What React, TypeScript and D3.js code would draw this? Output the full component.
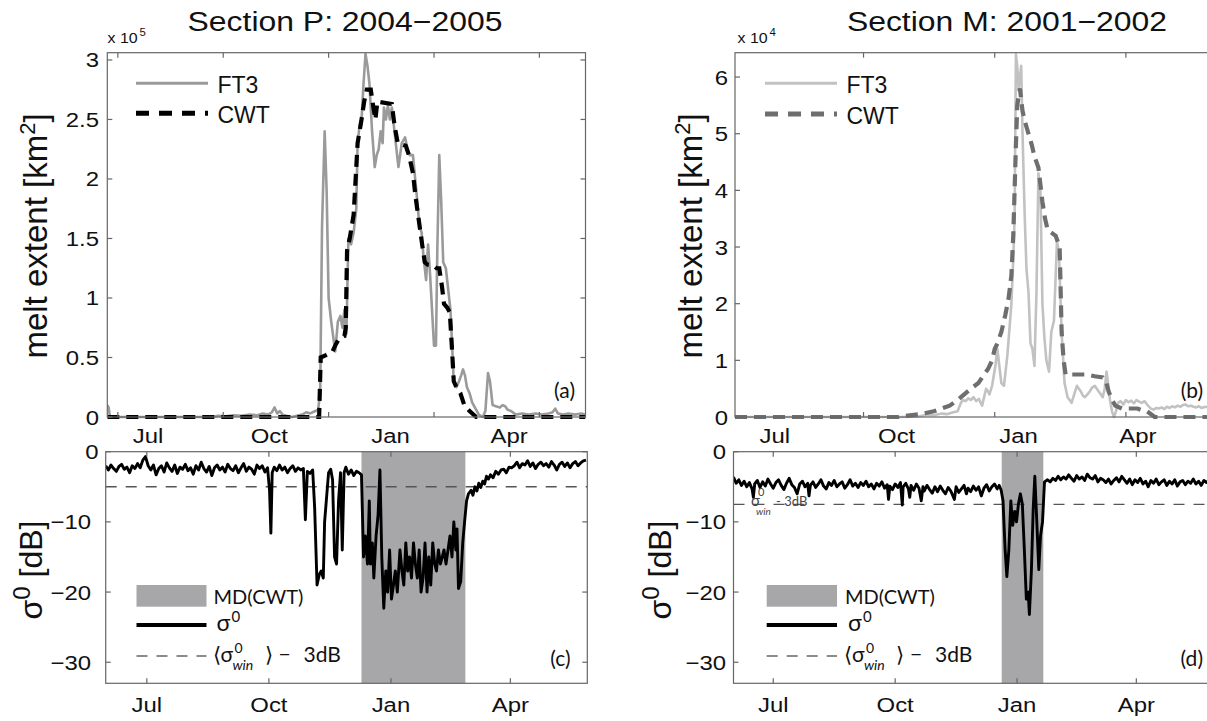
import React from 'react';
import * as d3 from 'd3';

// ---------- data ----------
const monthLabels = ['Jul', 'Oct', 'Jan', 'Apr'];
const monthDaysP = [31, 123, 215, 305]; // days since 31 May 2004
const monthDaysM = [30, 122, 214, 304]; // days since 1 Jun 2001
const topTicksP = [8, 88, 168, 248, 328];
const topTicksM = [97, 196, 295, 394];
const meltTicksP = [0, 0.5, 1, 1.5, 2, 2.5, 3];
const meltTicksM = [0, 1, 2, 3, 4, 5, 6];
const sigmaTicks = [0, -10, -20, -30];

// melt extent, Section P (x 1e5 km2)
const ft3P = [
  [0, 0.1], [1, 0.08], [2, 0], [30, 0], [60, 0], [80, 0], [84, 0.01], [90, 0.005], [96, 0.015], [102, 0.01],
  [108, 0.02], [114, 0.015], [118, 0.03], [122, 0.02], [125, 0.04], [127, 0.08], [129, 0.03], [131, 0.05],
  [133, 0.02], [136, 0.01], [140, 0], [144, 0.01], [148, 0.02], [151, 0.04], [154, 0.03], [158, 0.05],
  [160, 0.06], [161.6, 0.2], [163, 1.6], [165, 2.4], [166.5, 1.9], [168, 1.0], [170, 0.8], [173, 0.55],
  [175, 0.8], [177, 0.85], [178.5, 0.75], [180, 0.9], [181.5, 0.7], [183, 1.5], [185, 1.45], [187, 1.55],
  [189, 1.75], [190, 2.3], [191.5, 2.45], [193, 2.5], [194.5, 2.8], [196, 3.05], [197.5, 2.95], [199, 2.8],
  [201, 2.4], [203, 2.1], [204.5, 2.2], [206, 2.25], [207.5, 2.4], [209, 2.3], [210, 2.6], [211.5, 2.5],
  [213, 2.62], [214.5, 2.5], [216, 2.6], [217.5, 2.45], [219, 2.3], [221, 2.1], [223.5, 2.3], [226, 2.35],
  [228, 2.25], [229.5, 2.2], [232, 2.2], [235, 1.85], [237, 1.6], [238.6, 1.55], [240, 1.35], [242, 1.15],
  [243.5, 1.45], [245, 1.2], [246.5, 0.9], [248, 0.6], [249.5, 0.6], [250.5, 1.4], [252, 2.2], [253.5, 1.8],
  [255, 1.3], [257, 1.25], [258.5, 1.1], [260.5, 0.9], [263, 0.3], [265, 0.25], [267, 0.3], [268.6, 0.35],
  [270, 0.4], [271.5, 0.35], [273, 0.25], [275, 0.2], [277, 0.12], [279, 0.08], [282, 0.02], [285, 0],
  [287, 0.05], [289, 0.37], [290.5, 0.3], [292.5, 0.1], [295, 0.09], [298, 0.08], [300, 0.1], [302, 0.09],
  [304, 0.06], [306.5, 0.05], [310, 0.02], [315, 0.03], [320, 0.02], [325, 0.03], [330, 0.02], [335, 0.03],
  [338, 0.04], [340, 0.07], [342, 0.03], [346, 0.02], [350, 0.03], [355, 0.02], [360, 0.03], [363, 0.02],
];
const cwtP = [
  [0, 0], [160.8, 0], [162, 0.5], [166, 0.52], [171, 0.55], [173, 0.6], [175.4, 0.65], [180, 0.68],
  [181, 0.75], [182, 1.4], [184, 1.5], [187, 1.7], [190, 2.3], [193, 2.5], [195, 2.65], [197, 2.75],
  [200, 2.75], [202, 2.6], [203.5, 2.5], [205, 2.65], [216, 2.63], [218, 2.45], [220.5, 2.3], [226.5, 2.28],
  [229, 2.2], [232, 2.05], [234, 1.85], [236.5, 1.65], [239, 1.45], [241, 1.3], [243, 1.28], [248, 1.27],
  [250, 1.25], [252, 1.25], [254, 1.1], [255.6, 0.95], [258, 0.92], [260, 0.88], [261.5, 0.6], [263, 0.3],
  [265, 0.25], [268, 0.2], [271, 0.1], [275, 0.05], [280, 0], [363, 0],
];

// melt extent, Section M (x 1e4 km2)
const ft3M = [
  [0, 0], [100, 0], [125, 0], [138, 0.01], [145, 0.04], [150, 0.03], [156, 0.06], [160, 0.05], [164, 0.08],
  [168, 0.1], [170.5, 0.25], [172, 0.3], [174, 0.28], [176, 0.33], [178, 0.3], [180, 0.35], [182, 0.28],
  [184, 0.32], [186.5, 0.2], [188, 0.35], [189.5, 0.5], [191, 0.45], [192, 0.4], [194, 0.55], [196.5, 0.9],
  [198, 1.2], [199.5, 0.9], [201, 0.6], [203, 0.55], [205.6, 1.1], [208.6, 2.0], [210, 2.8], [211, 3.5],
  [212, 6.4], [213, 6.2], [214, 5.8], [215, 6.0], [216, 6.2], [217, 5.0], [218.7, 3.5], [220, 2.6],
  [221.5, 2.2], [223, 1.3], [224.5, 1.2], [226, 0.9], [227.5, 2.2], [229, 4.3], [230.5, 4.0], [232, 2.0],
  [233.5, 1.4], [235, 1.0], [237, 0.8], [238.7, 1.5], [240.7, 1.7], [243, 3.1], [244.5, 2.9], [246.5, 1.5],
  [248.7, 0.6], [251, 0.35], [254, 0.25], [256, 0.4], [258, 0.55], [259.5, 0.5], [261, 0.45], [262.5, 0.38],
  [264, 0.35], [266, 0.4], [267.7, 0.45], [269.5, 0.52], [271.5, 0.55], [273, 0.5], [274.5, 0.45],
  [276, 0.4], [277.5, 0.35], [279, 0.5], [280.4, 0.8], [281.5, 0.6], [283, 0.3], [284.5, 0.1], [286, 0],
  [287.5, 0.1], [289, 0.25], [291, 0.28], [293, 0.22], [295, 0.3], [297, 0.26], [299, 0.29], [301, 0.24],
  [303, 0.3], [305, 0.27], [307, 0.25], [309, 0.28], [311, 0.22], [313.7, 0.15], [316, 0.13], [318, 0.16],
  [320, 0.15], [322, 0.17], [324, 0.14], [326, 0.18], [328, 0.16], [330, 0.19], [332, 0.17], [334, 0.2],
  [336, 0.18], [338, 0.21], [340, 0.22], [342, 0.19], [344, 0.2], [346, 0.18], [348, 0.17], [350, 0.19],
  [352, 0.16], [355, 0.18], [358, 0.17], [363, 0.16],
];
const cwtM = [
  [0, 0], [123, 0], [132, 0.03], [140, 0.05], [150, 0.1], [156, 0.15], [162, 0.2], [168, 0.3], [173, 0.4],
  [178, 0.5], [183.7, 0.6], [188, 0.75], [191, 0.85], [194, 1.0], [196, 1.2], [198, 1.3], [201, 1.5],
  [204, 1.8], [206.5, 2.1], [208.6, 2.5], [210, 3.2], [211, 4.0], [212, 4.8], [213, 5.5], [215, 5.8],
  [217, 5.4], [219, 5.2], [221.5, 5.0], [224, 4.8], [226, 4.6], [229, 4.4], [230.5, 4.1], [232, 3.8],
  [234, 3.5], [236, 3.3], [239, 3.25], [242, 3.2], [245, 3.0], [246.5, 1.5], [248, 1.0], [249.5, 0.75],
  [255, 0.75], [260, 0.75], [265.6, 0.75], [271.5, 0.72], [277.5, 0.7], [280.3, 0.6], [282, 0.45],
  [284.6, 0.3], [287, 0.2], [292, 0.15], [298, 0.15], [303.7, 0.15], [307, 0.12], [311, 0.1], [314, 0.05],
  [316.7, 0], [363, 0],
];

// backscatter sigma0 [dB], Section P
const sigmaP = [
  [0, -2.0], [2, -2.6], [4, -1.9], [6, -2.4], [8, -2.8], [10, -2.1], [12, -1.8], [14, -2.5], [16, -2.2],
  [18, -3.0], [20, -2.0], [22, -2.4], [24, -1.7], [26, -2.3], [28, -1.2], [30, -0.7], [32, -2.0], [34, -2.6],
  [36, -1.9], [38, -3.3], [40, -2.4], [42, -2.0], [44, -2.9], [46, -1.6], [48, -2.3], [50, -2.8], [52, -1.9],
  [54, -3.1], [56, -2.2], [58, -2.5], [60, -1.8], [62, -2.7], [64, -2.3], [66, -3.2], [68, -2.0], [70, -2.6],
  [72, -1.5], [74, -2.4], [76, -2.9], [78, -2.1], [80, -3.4], [82, -2.3], [84, -1.9], [86, -2.6], [88, -2.2],
  [90, -2.9], [92, -1.8], [94, -2.4], [96, -2.7], [98, -2.0], [100, -3.0], [102, -2.3], [104, -1.7],
  [106, -2.8], [108, -2.2], [110, -2.5], [112, -3.2], [114, -1.9], [116, -2.4], [118, -2.0], [120, -2.9],
  [122, -2.3], [123.5, -5.5], [124.5, -11.6], [125.5, -3.0], [127, -2.2], [129, -2.7], [131, -1.9],
  [133, -2.6], [135, -2.2], [137, -3.0], [139, -2.4], [141, -2.0], [143, -2.8], [145, -2.3], [147, -2.6],
  [149, -2.4], [150.5, -9.7], [152, -2.8], [154, -3.1], [156, -2.6], [157.5, -8], [159.3, -19], [161, -17.5],
  [162.4, -17], [164, -18], [165, -10], [166.7, -6], [168, -3], [169.6, -2.5], [171, -4], [172.5, -15],
  [174, -16], [175.5, -7], [177, -3], [178.3, -14], [179.7, -3], [181, -2.2], [183, -3.2], [185, -2.6],
  [187, -3.4], [189, -2.8], [191, -3.0], [192.8, -3.3], [194.3, -15], [195.7, -12], [197.3, -16], [198.7, -7],
  [199.5, -16], [201, -13], [202.1, -18], [203.8, -12], [205.3, -9], [206.7, -2.6], [208.1, -15],
  [209.6, -22.3], [211.1, -17], [212.5, -20], [214, -14], [215.4, -21], [216.9, -19], [218.3, -17],
  [219.8, -20], [221.8, -14], [223.3, -17], [224.7, -19], [226.2, -13], [227.6, -17], [229, -15],
  [230.5, -18], [232, -13], [233.4, -16], [234.9, -18], [236.3, -14], [237.7, -20], [239.2, -18],
  [240.7, -13], [242.2, -20], [243.5, -15], [245, -19], [246.5, -13], [248, -16], [249.3, -17], [250.8, -14],
  [252.3, -16], [253.7, -15], [255, -14], [256.5, -16], [258, -14], [259.5, -12], [261, -15], [262.4, -10],
  [263.9, -14], [264.8, -11], [265.9, -19.5], [267.6, -18.5], [269.1, -13], [270.5, -10], [272, -7],
  [273.4, -6], [275.4, -5.5], [276.8, -6.2], [278.3, -5.0], [279.8, -5.6], [281.2, -4.5], [282.7, -5.1],
  [284.2, -4.2], [285.6, -4.6], [287, -3.5], [288.5, -3.9], [290, -3.3], [292, -3.7], [294, -2.8],
  [296, -3.2], [298, -2.6], [300, -2.5], [302, -3.0], [304, -2.2], [305.9, -2.3], [308, -2.0], [310, -1.5],
  [312, -2.3], [314, -1.7], [316, -1.9], [318, -1.3], [320, -2.1], [322, -1.6], [324, -2.4], [326, -1.8],
  [328, -1.5], [330, -2.0], [332, -1.7], [334, -2.2], [336, -1.4], [338, -1.9], [340, -2.6], [342, -1.8],
  [344, -1.5], [346, -2.1], [348, -1.6], [350, -2.3], [352, -1.7], [354, -1.4], [356, -2.0], [358, -1.6],
  [360, -1.3], [362, -1.2],
];

// backscatter sigma0 [dB], Section M
const sigmaM = [
  [0, -3.6], [2, -4.5], [4, -4.0], [6, -4.8], [8, -4.2], [10, -5.0], [12, -4.4], [14, -5.3], [15, -6.5],
  [16, -4.6], [18, -4.1], [20, -5.1], [22, -4.3], [24, -4.9], [26, -3.9], [28, -4.6], [30, -5.2], [32, -4.4],
  [34, -4.0], [36, -4.8], [38, -5.4], [40, -4.5], [42, -3.8], [44, -4.7], [46, -5.1], [48, -6.0], [50, -4.6],
  [52, -4.2], [54, -5.0], [56, -4.5], [57, -6.3], [58, -4.8], [60, -4.3], [62, -5.1], [64, -4.6], [66, -4.0],
  [68, -4.9], [70, -5.3], [72, -4.4], [74, -4.8], [76, -4.1], [78, -5.0], [80, -4.6], [82, -4.3], [84, -5.2],
  [86, -4.7], [88, -4.0], [90, -4.9], [92, -4.5], [94, -5.1], [96, -4.4], [98, -4.8], [100, -4.2],
  [102, -5.0], [104, -4.6], [106, -5.3], [108, -4.5], [110, -4.9], [112, -4.3], [114, -5.2], [116, -4.7],
  [117, -6.8], [118, -4.9], [120, -5.4], [122, -4.6], [124, -5.1], [126, -4.4], [127.4, -7.6], [128, -5.0],
  [130, -4.5], [132, -5.3], [133, -6.5], [134, -4.8], [136, -5.5], [138, -4.6], [140, -5.2], [141.7, -7.0],
  [143, -5.0], [144, -5.6], [146, -4.8], [148, -5.4], [150, -5.9], [152, -5.0], [154, -5.7], [156, -4.9],
  [158, -5.5], [160, -6.0], [162, -5.1], [164, -5.6], [166.7, -6.8], [168, -5.0], [170, -5.8], [172, -5.3],
  [174, -4.8], [175.8, -6.0], [177, -5.2], [179, -5.7], [181, -4.9], [183, -5.5], [185, -5.0], [187, -6.3],
  [189, -5.2], [191, -4.7], [193, -5.6], [195, -5.0], [197, -4.6], [199, -5.3], [200.5, -4.8], [202, -5.5],
  [203.4, -7], [205, -14], [206.3, -17.8], [207.8, -14], [209.3, -7], [210.7, -10.5], [212.2, -8.5],
  [213.6, -10], [215, -7.5], [216.5, -6], [218, -7.5], [219.5, -14], [221, -21], [222.4, -20],
  [223.3, -23.2], [224.8, -17], [226.2, -8], [227.4, -3.5], [228.9, -10], [230.4, -16.8], [231.7, -12],
  [233.2, -10], [234.7, -4.3], [237, -4.0], [239, -4.3], [241, -3.8], [243, -4.1], [245, -3.5], [247, -4.0],
  [249, -3.6], [251, -3.9], [253, -3.3], [255, -3.8], [257, -4.2], [259, -3.4], [261, -3.9], [263, -3.6],
  [265, -4.1], [267, -3.2], [269, -3.7], [271, -3.9], [273, -3.4], [275, -4.3], [277, -3.8], [279, -4.0],
  [281, -4.4], [283, -3.9], [285, -4.6], [287, -4.1], [289, -3.7], [291, -4.3], [293, -3.5], [295, -4.0],
  [297, -4.5], [299, -3.9], [301, -4.7], [303, -4.0], [305, -4.4], [307, -3.8], [309, -4.6], [311, -4.2],
  [313, -5.0], [315, -4.1], [317, -4.5], [319, -3.9], [321, -4.7], [323, -4.3], [325, -4.0], [327, -4.8],
  [329, -4.2], [331, -4.6], [333, -4.0], [335, -4.9], [337, -4.3], [339, -4.1], [341, -4.7], [343, -4.2],
  [345, -4.5], [347, -3.9], [349, -4.6], [351, -4.2], [353, -4.8], [355, -4.1], [357, -4.4], [359, -4.0],
  [361, -4.5], [363, -4.2],
];

const mdP = [192.8, 271.1]; // melt duration (CWT) shading, days
const mdM = [202.4, 233.8];
const thresholdP = -5;
const thresholdM = -7.5;

// ---------- drawing ----------
const SANS = '"Liberation Sans", Arial, Helvetica, sans-serif';
const MYR = 'Lato, "Open Sans", sans-serif';
const AX = '#666';
const SX = 1.14; // horizontal stretch of the reference's Helvetica text

function ST({ x, y, size, anchor = 'start', sx = SX, children }) {
  return (
    <text transform={`translate(${x},${y}) scale(${sx},1)`} textAnchor={anchor} fontFamily={SANS} fontSize={size} fill="#111">
      {children}
    </text>
  );
}

function Frame({ xs, ys, xTicks, yTicks, tl = 5 }) {
  const [a, b] = xs.range();
  const [c, d] = ys.range();
  return (
    <g stroke={AX} strokeWidth={1.2} fill="none">
      <rect x={a} y={d} width={b - a} height={c - d} />
      {xTicks.map((t) => (
        <g key={'x' + t}>
          <line x1={xs(t)} x2={xs(t)} y1={c} y2={c - tl} />
          <line x1={xs(t)} x2={xs(t)} y1={d} y2={d + tl} />
        </g>
      ))}
      {yTicks.map((t) => (
        <g key={'y' + t}>
          <line x1={a} x2={a + tl} y1={ys(t)} y2={ys(t)} />
          <line x1={b} x2={b - tl} y1={ys(t)} y2={ys(t)} />
        </g>
      ))}
    </g>
  );
}

function Clip({ id, xs, ys }) {
  const [a, b] = xs.range();
  const [c, d] = ys.range();
  return (
    <clipPath id={id}>
      <rect x={a} y={d - 2} width={b - a} height={c - d + 4} />
    </clipPath>
  );
}

function SigmaLegend({ lx0, lx1, tx }) {
  return (
    <g>
      <rect x={lx0} y={585} width={lx1 - lx0} height={21.7} fill="#a7a7aa" />
      <text x={tx} y={604} fontFamily={MYR} fontSize={20} fill="#111">MD(CWT)</text>
      <line x1={lx0} x2={lx1} y1={625} y2={625} stroke="#000" strokeWidth={4} />
      <text x={tx + 3} y={631} fontFamily={MYR} fontSize={23} fill="#111">σ</text>
      <text x={tx + 18} y={622} fontFamily={MYR} fontSize={15} fill="#111">0</text>
      <line x1={lx0} x2={lx1} y1={656} y2={656} stroke="#666" strokeWidth={1.5} strokeDasharray="11 9" />
      <text x={tx - 1} y={662} fontFamily={MYR} fontSize={21} fill="#111">⟨σ</text>
      <text x={tx + 21} y={653} fontFamily={MYR} fontSize={14} fill="#111">0</text>
      <text x={tx + 19} y={670} fontFamily={MYR} fontSize={14} fontStyle="italic" fill="#111">win</text>
      <text x={tx + 51} y={662} fontFamily={MYR} fontSize={21} fill="#111">⟩</text>
      <text x={tx + 65} y={662} fontFamily={MYR} fontSize={21} fill="#111">−</text>
      <text x={tx + 90} y={662} fontFamily={MYR} fontSize={21} fill="#111">3dB</text>
    </g>
  );
}

export default function App() {
  const xTL = d3.scaleLinear().domain([0, 363]).range([107.3, 585.5]);
  const yTL = d3.scaleLinear().domain([0, 3.061]).range([417, 52.7]);
  const xTR = d3.scaleLinear().domain([0, 363]).range([735, 1216]);
  const yTR = d3.scaleLinear().domain([0, 6.43]).range([417, 52.7]);
  const xBL = d3.scaleLinear().domain([0, 363]).range([105.7, 587.3]);
  const xBR = d3.scaleLinear().domain([0, 363]).range([733.5, 1214.5]);
  const yB = d3.scaleLinear().domain([-33, 0]).range([683.3, 451.7]);

  const mk = (xs, ys) => d3.line().x((d) => xs(d[0])).y((d) => ys(d[1]));
  const lTL = mk(xTL, yTL);
  const lTR = mk(xTR, yTR);
  const lBL = mk(xBL, yB);
  const lBR = mk(xBR, yB);

  const fmt = (v) => (v < 0 ? '−' + Math.abs(v) : String(v));

  return (
    <svg width={1207} height={721} style={{ position: 'fixed', left: 0, top: 0, background: '#fff' }}>
      <rect width={1207} height={721} fill="#fff" />
      <defs>
        <Clip id="cTL" xs={xTL} ys={yTL} />
        <Clip id="cTR" xs={xTR} ys={yTR} />
        <Clip id="cBL" xs={xBL} ys={yB} />
        <Clip id="cBR" xs={xBR} ys={yB} />
      </defs>

      {/* titles */}
      <ST x={345} y={31} size={28} anchor="middle">Section P: 2004−2005</ST>
      <ST x={1007} y={31} size={28} anchor="middle">Section M: 2001−2002</ST>

      {/* ===== panel (a) ===== */}
      <g clipPath="url(#cTL)" fill="none">
        <path d={lTL(ft3P)} stroke="#9a9a9a" strokeWidth={2.6} strokeLinejoin="round" />
        <path d={lTL(cwtP)} stroke="#000" strokeWidth={4.2} strokeDasharray="12 7" />
      </g>
      <Frame xs={xTL} ys={yTL} xTicks={topTicksP} yTicks={meltTicksP} />
      {meltTicksP.map((t) => (
        <ST key={t} x={99} y={yTL(t) + 7.5} size={21} anchor="end">{t}</ST>
      ))}
      {monthLabels.map((m, i) => (
        <ST key={m} x={xTL(monthDaysP[i])} y={443} size={21} anchor="middle">{m}</ST>
      ))}
      <ST x={107.5} y={43} size={14}>x 10</ST>
      <ST x={139.5} y={36} size={10}>5</ST>
      <text transform="translate(47,236) rotate(-90)" textAnchor="middle" fontFamily={SANS} fontSize={33} fill="#111">
        melt extent [km<tspan dy={-12} fontSize={22}>2</tspan><tspan dy={12}>]</tspan>
      </text>
      <line x1={136} x2={208} y1={83.3} y2={83.3} stroke="#9a9a9a" strokeWidth={3} />
      <text x={217.5} y={93.3} fontFamily={SANS} fontSize={23} fill="#111">FT3</text>
      <line x1={136} x2={208} y1={113.3} y2={113.3} stroke="#000" strokeWidth={5} strokeDasharray="13 10" />
      <text x={217.5} y={123.3} fontFamily={SANS} fontSize={23} fill="#111">CWT</text>
      <text x={575} y={398} textAnchor="end" fontFamily={MYR} fontSize={21} fill="#111">(a)</text>

      {/* ===== panel (b) ===== */}
      <g clipPath="url(#cTR)" fill="none">
        <path d={lTR(ft3M)} stroke="#c2c2c2" strokeWidth={2.6} strokeLinejoin="round" />
        <path d={lTR(cwtM)} stroke="#6e6e6e" strokeWidth={4.2} strokeDasharray="12 7" />
      </g>
      <Frame xs={xTR} ys={yTR} xTicks={topTicksM} yTicks={meltTicksM} />
      {meltTicksM.map((t) => (
        <ST key={t} x={728} y={yTR(t) + 7.5} size={21} anchor="end">{t}</ST>
      ))}
      {monthLabels.map((m, i) => (
        <ST key={m} x={xTR(monthDaysM[i])} y={443} size={21} anchor="middle">{m}</ST>
      ))}
      <ST x={737.5} y={43} size={14}>x 10</ST>
      <ST x={769.5} y={36} size={10}>4</ST>
      <text transform="translate(702,236) rotate(-90)" textAnchor="middle" fontFamily={SANS} fontSize={33} fill="#111">
        melt extent [km<tspan dy={-12} fontSize={22}>2</tspan><tspan dy={12}>]</tspan>
      </text>
      <line x1={765} x2={837} y1={83.3} y2={83.3} stroke="#c2c2c2" strokeWidth={3} />
      <text x={846.5} y={93.3} fontFamily={SANS} fontSize={23} fill="#111">FT3</text>
      <line x1={765} x2={837} y1={114} y2={114} stroke="#6e6e6e" strokeWidth={5} strokeDasharray="13 10" />
      <text x={846.5} y={123.5} fontFamily={SANS} fontSize={23} fill="#111">CWT</text>
      <text x={1203} y={398} textAnchor="end" fontFamily={MYR} fontSize={21} fill="#111">(b)</text>

      {/* ===== panel (c) ===== */}
      <g clipPath="url(#cBL)">
        <rect x={xBL(mdP[0])} y={yB(0)} width={xBL(mdP[1]) - xBL(mdP[0])} height={yB(-33) - yB(0)} fill="#a7a7aa" />
        <line x1={xBL(0)} x2={xBL(363)} y1={yB(thresholdP)} y2={yB(thresholdP)} stroke="#555" strokeWidth={1.4} strokeDasharray="11 9" />
        <path d={lBL(sigmaP)} fill="none" stroke="#000" strokeWidth={2.9} strokeLinejoin="round" />
      </g>
      <Frame xs={xBL} ys={yB} xTicks={monthDaysP} yTicks={sigmaTicks} />
      {sigmaTicks.map((t) => (
        <ST key={t} x={t === 0 ? 98.5 : 91} y={yB(t) + 7.5} size={21} anchor="end">{fmt(t)}</ST>
      ))}
      {monthLabels.map((m, i) => (
        <ST key={m} x={xBL(monthDaysP[i])} y={712} size={21} anchor="middle">{m}</ST>
      ))}
      <text transform="translate(42,570) rotate(-90)" textAnchor="middle" fontFamily={SANS} fontSize={32} fill="#111">
        σ<tspan dy={-12} fontSize={24}>0</tspan><tspan dy={12}> [dB]</tspan>
      </text>
      <SigmaLegend lx0={136.5} lx1={206.5} tx={213.5} />
      <text x={570.5} y={666} textAnchor="end" fontFamily={MYR} fontSize={21} fill="#111">(c)</text>

      {/* ===== panel (d) ===== */}
      <g clipPath="url(#cBR)">
        <rect x={xBR(mdM[0])} y={yB(0)} width={xBR(mdM[1]) - xBR(mdM[0])} height={yB(-33) - yB(0)} fill="#a7a7aa" />
        <line x1={xBR(0)} x2={xBR(363)} y1={yB(thresholdM)} y2={yB(thresholdM)} stroke="#555" strokeWidth={1.4} strokeDasharray="11 9" />
        <path d={lBR(sigmaM)} fill="none" stroke="#000" strokeWidth={2.9} strokeLinejoin="round" />
      </g>
      <Frame xs={xBR} ys={yB} xTicks={monthDaysM} yTicks={sigmaTicks} />
      {sigmaTicks.map((t) => (
        <ST key={t} x={726} y={yB(t) + 7.5} size={21} anchor="end">{fmt(t)}</ST>
      ))}
      {monthLabels.map((m, i) => (
        <ST key={m} x={xBR(monthDaysM[i])} y={712} size={21} anchor="middle">{m}</ST>
      ))}
      <text transform="translate(671,570) rotate(-90)" textAnchor="middle" fontFamily={SANS} fontSize={32} fill="#111">
        σ<tspan dy={-12} fontSize={24}>0</tspan><tspan dy={12}> [dB]</tspan>
      </text>
      <g fill="#444" fontFamily={MYR}>
        <text x={751} y={506} fontSize={15}>σ</text>
        <text x={758} y={496} fontSize={11}>0</text>
        <text x={756} y={515} fontSize={10} fontStyle="italic">win</text>
        <text x={776} y={506} fontSize={13}>- 3dB</text>
      </g>
      <SigmaLegend lx0={766.7} lx1={837} tx={845} />
      <text x={1203} y={666} textAnchor="end" fontFamily={MYR} fontSize={21} fill="#111">(d)</text>
    </svg>
  );
}
